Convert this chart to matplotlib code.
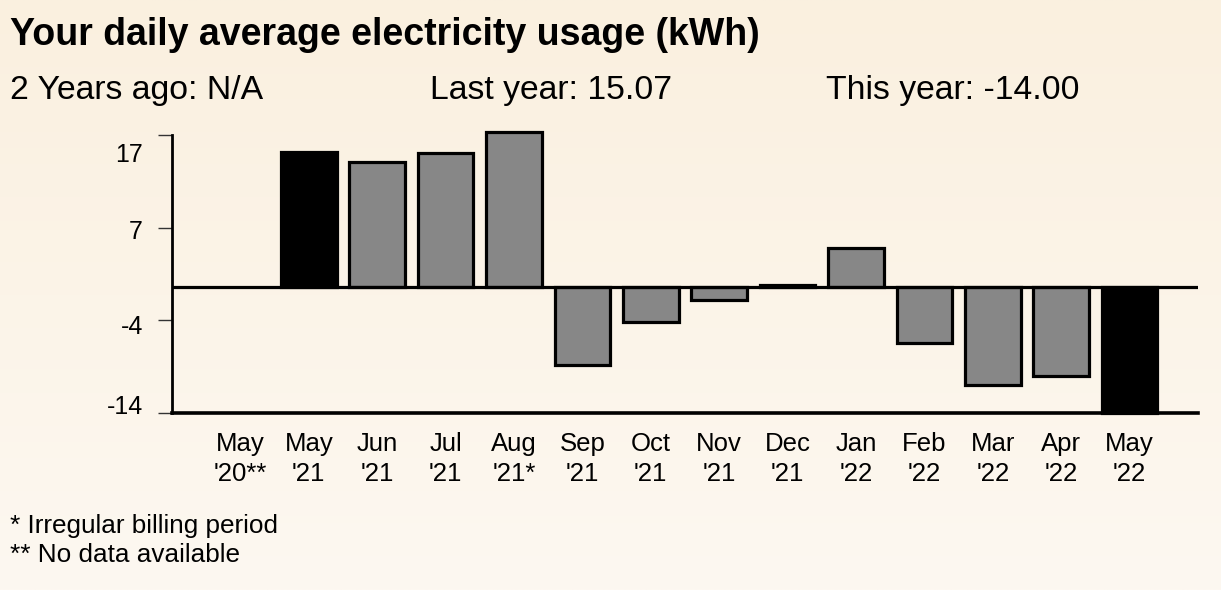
import numpy as np
import matplotlib
matplotlib.use("Agg")
import matplotlib.pyplot as plt
import matplotlib.transforms as mtransforms

# ---- data ----
categories = ["May\n'20**", "May\n'21", "Jun\n'21", "Jul\n'21", "Aug\n'21*", "Sep\n'21",
              "Oct\n'21", "Nov\n'21", "Dec\n'21", "Jan\n'22", "Feb\n'22", "Mar\n'22",
              "Apr\n'22", "May\n'22"]
values = [np.nan, 15.07, 14.0, 15.0, 17.3, -8.6, -3.8, -1.4, 0.3, 4.4, -6.2, -10.9, -9.9, -14.0]
bar_colors = ["#000000", "#000000"] + ["#878787"] * 11 + ["#000000"]
ytick_values = [-14, -14 + 31 / 3, -14 + 62 / 3, 17]
ytick_labels = ["-14", "-4", "7", "17"]

title = "Your daily average electricity usage (kWh)"
summary = ["2 Years ago: N/A", "Last year: 15.07", "This year: -14.00"]
footnotes = ["* Irregular billing period", "** No data available"]

W, H = 1221, 590
plt.rcParams['font.family'] = ['Liberation Sans', 'DejaVu Sans']
fig = plt.figure(figsize=(W / 100, H / 100), dpi=100)

# background gradient
bg = fig.add_axes([0, 0, 1, 1], zorder=-10)
top = np.array([250, 240, 223]) / 255
bot = np.array([253, 248, 241]) / 255
t = np.linspace(0, 1, 256)[:, None]
grad = top[None, :] * (1 - t) + bot[None, :] * t
bg.imshow(np.repeat(grad[:, None, :], 4, axis=1), aspect='auto', extent=[0, 1, 0, 1])
bg.axis('off')

def px(x0, y0, w, h):
    return [x0 / W, 1 - (y0 + h) / H, w / W, h / H]

ax = fig.add_axes(px(172, 135, 1026, 278))
ax.patch.set_alpha(0)
x = np.arange(len(categories))
bars = ax.bar(x, values, width=0.81, color=bar_colors, edgecolor="black", linewidth=2.3, zorder=3)
for b in bars:
    b.set_clip_on(False)
ax.set_xlim(-1, 14)
ax.set_ylim(-14, 17)
ax.axhline(0, color="black", linewidth=2.3, zorder=4)
ax.axhline(-14, color="black", linewidth=2.6, zorder=4, clip_on=False)
for s in ["top", "right", "bottom"]:
    ax.spines[s].set_visible(False)
ax.spines["left"].set_linewidth(2.0)
ax.set_yticks(ytick_values)
ax.set_yticklabels([])
ax.tick_params(axis='y', length=10, width=1.0, color="#333333")

# y labels: placed relative to their ticks, with the end labels pulled inward
label_offsets_px = [-6, 7, 4, 20]   # downward shift in pixels
base = mtransforms.blended_transform_factory(ax.transAxes, ax.transData)
for v, lab, off in zip(ytick_values, ytick_labels, label_offsets_px):
    tr = base + mtransforms.ScaledTranslation(-29 / 100, -off / 100, fig.dpi_scale_trans)
    ax.text(0, v, lab, transform=tr, ha='right', va='center', fontsize=18, clip_on=False)

ax.set_xticks(x)
ax.set_xticklabels(categories, fontsize=18.5, linespacing=1.3)
ax.tick_params(axis='x', length=0, pad=14)

fig.text(10 / W, 1 - 45 / H, title, fontsize=27, fontweight='bold', ha='left', va='baseline')
for xp, s in zip([10, 430, 826], summary):
    fig.text(xp / W, 1 - 99 / H, s, fontsize=24.3, ha='left', va='baseline')
fig.text(10 / W, 1 - 533 / H, footnotes[0], fontsize=18.8, ha='left', va='baseline')
fig.text(10 / W, 1 - 562 / H, footnotes[1], fontsize=18.8, ha='left', va='baseline')

fig.savefig("out.png", dpi=100)
